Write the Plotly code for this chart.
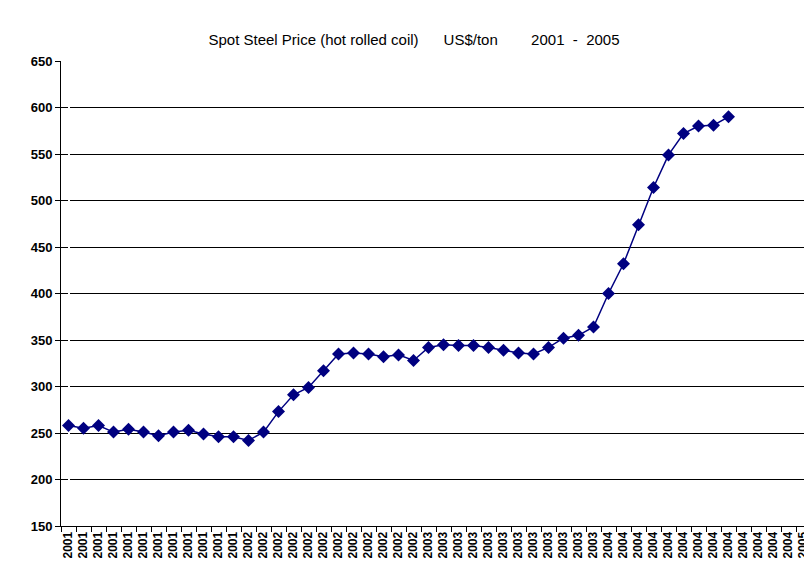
import plotly.graph_objects as go

years = ["2001"] * 12 + ["2002"] * 12 + ["2003"] * 12 + ["2004"] * 13 + ["2005"]
prices = [258, 255, 258, 251, 254, 251, 247, 251, 253, 249, 246, 246, 242, 251, 273,
          291, 299, 317, 335, 336, 335, 332, 334, 328, 342, 345, 344, 344, 342, 339,
          336, 335, 342, 352, 355, 364, 400, 432, 474, 514, 549, 572, 580, 581, 590]

idx = list(range(len(years)))

fig = go.Figure(
    go.Scatter(
        x=idx[: len(prices)],
        y=prices,
        mode="lines+markers",
        line=dict(color="#000080", width=1.5),
        marker=dict(symbol="diamond", size=10, color="#000080"),
    )
)
fig.update_layout(
    width=812,
    height=574,
    margin=dict(l=53, r=9, t=53, b=56, autoexpand=False),
    paper_bgcolor="white",
    plot_bgcolor="white",
    showlegend=False,
    font=dict(family="Liberation Sans, Arial", size=12, color="black"),
    title=dict(
        text="Spot Steel Price (hot rolled coil)      US$/ton        2001  -  2005",
        x=0.5, xanchor="center", y=0.945, yanchor="middle",
        font=dict(size=15),
    ),
)
fig.update_xaxes(
    automargin=False,
    range=[-0.5, len(years) - 0.5],
    tickmode="array",
    tickvals=idx,
    ticktext=[f"<b>{y}</b>" for y in years],
    tickangle=-90,
    tickfont=dict(size=12),
    ticks="",
    showgrid=False,
    showline=True,
    linecolor="black",
    linewidth=1,
    minor=dict(ticks="outside", tickmode="array",
               tickvals=[i - 0.5 for i in idx] + [len(years) - 0.5],
               ticklen=5, tickcolor="black", showgrid=False),
)
fig.update_yaxes(
    automargin=False,
    range=[150, 650],
    tickmode="array",
    tickvals=list(range(150, 651, 50)),
    ticktext=[f"<b>{v}</b>" for v in range(150, 651, 50)],
    tickfont=dict(size=13),
    ticks="outside",
    ticklen=5,
    tickcolor="black",
    showgrid=True,
    gridcolor="black",
    gridwidth=1,
    showline=True,
    linecolor="black",
    zeroline=False,
)
fig.add_shape(type="line", xref="paper", yref="paper", x0=1, x1=1, y0=0, y1=1,
              line=dict(color="#808080", width=1))
fig.write_html("out.html")
